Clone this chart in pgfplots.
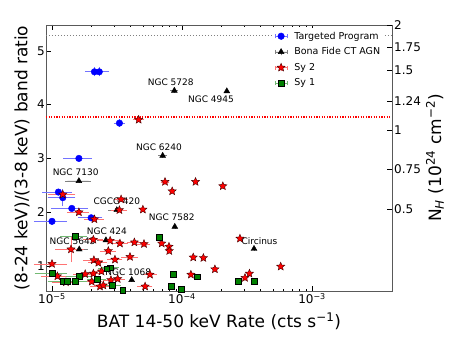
\documentclass[border=0pt]{standalone}
\usepackage{pgfplots}
\pgfplotsset{compat=1.18}
\usepackage{pgfplotstable}
\usepackage{fontspec}
\setmainfont{DejaVu Sans}
\definecolor{sygreen}{RGB}{0,128,0}

\pgfdeclareplotmark{fstar}{%
  \pgfpathmoveto{\pgfpointpolar{90}{\pgfplotmarksize}}%
  \pgfpathlineto{\pgfpointpolar{126}{0.45\pgfplotmarksize}}%
  \pgfpathlineto{\pgfpointpolar{162}{\pgfplotmarksize}}%
  \pgfpathlineto{\pgfpointpolar{198}{0.45\pgfplotmarksize}}%
  \pgfpathlineto{\pgfpointpolar{234}{\pgfplotmarksize}}%
  \pgfpathlineto{\pgfpointpolar{270}{0.45\pgfplotmarksize}}%
  \pgfpathlineto{\pgfpointpolar{306}{\pgfplotmarksize}}%
  \pgfpathlineto{\pgfpointpolar{342}{0.45\pgfplotmarksize}}%
  \pgfpathlineto{\pgfpointpolar{18}{\pgfplotmarksize}}%
  \pgfpathlineto{\pgfpointpolar{54}{0.45\pgfplotmarksize}}%
  \pgfpathclose
  \pgfusepathqfillstroke
}

\pgfplotstableread{
x y ex ey
2.12e-5 4.61 0.25e-5 0.05
2.31e-5 4.61 0.35e-5 0.05
3.30e-5 3.656 0.2e-5 0.03
1.61e-5 3.00 0.35e-5 0
1.12e-5 2.374 0.25e-5 0
1.21e-5 2.27 0.25e-5 0.12
1.42e-5 2.07 0.4e-5 0
2.00e-5 1.896 0.35e-5 0
1.00e-5 1.83 0.25e-5 0
}\bluetab

\pgfplotstableread{
x y ex ey
8.73e-5 4.26 0.3e-5 0
2.21e-4 4.25 0 0
7.10e-5 3.05 0.3e-5 0
1.61e-5 2.58 0.3e-5 0
3.15e-5 2.04 0.35e-5 0
8.80e-5 1.73 0 0
2.60e-5 1.48 0.3e-5 0
1.62e-5 1.31 0.2e-5 0
4.10e-5 0.74 0 0
3.58e-4 1.32 0 0
}\blacktab

\pgfplotstableread{
x y ex ey
4.64e-5 3.72 0.3e-5 0
1.21e-5 2.33 0.25e-5 0
1.61e-5 2.00 0.25e-5 0
2.12e-5 1.87 0.3e-5 0
3.40e-5 2.24 0.3e-5 0
3.30e-5 2.04 0.35e-5 0
5.00e-5 2.05 0 0
7.40e-5 2.565 0.3e-5 0
8.40e-5 2.39 0 0
1.27e-4 2.565 0 0
2.06e-4 2.485 0 0
2.08e-5 1.49 0.3e-5 0
2.80e-5 1.47 0.4e-5 0
3.33e-5 1.42 0.4e-5 0
4.30e-5 1.44 0.4e-5 0
5.10e-5 1.41 0.4e-5 0
1.40e-5 1.31 0.3e-5 0.2
2.71e-5 1.28 0.3e-5 0
3.98e-5 1.17 0.45e-5 0
3.05e-5 1.12 0.3e-5 0
2.10e-5 1.11 0.3e-5 0
2.27e-5 1.06 0.3e-5 0
1.00e-5 1.04 0.25e-5 0
2.40e-5 0.90 0.3e-5 0
1.10e-5 0.81 0.25e-5 0
1.80e-5 0.85 0.3e-5 0
2.08e-5 0.86 0.3e-5 0
3.20e-5 0.76 0.3e-5 0
2.02e-5 0.71 0.3e-5 0
2.84e-5 0.74 0.3e-5 0
2.34e-5 0.62 0.3e-5 0
2.48e-5 0.64 0.3e-5 0
1.28e-5 0.70 0.25e-5 0
5.20e-5 0.62 0.5e-5 0
5.67e-5 0.84 0.5e-5 0
6.98e-5 1.42 0 0
7.94e-5 1.36 0 0
7.98e-5 1.28 0 0
1.22e-4 1.16 0 0
1.46e-4 1.15 0 0
1.79e-4 0.94 0 0
1.17e-4 0.84 0 0
2.79e-4 1.51 0 0
3.05e-4 0.78 0 0
3.30e-4 0.86 0 0
5.74e-4 0.99 0 0
}\redtab

\pgfplotstableread{
x y ex ey
1.50e-5 1.56 0.3e-5 0
6.70e-5 1.53 0 0
2.80e-5 0.97 0.35e-5 0
2.63e-5 0.95 0.3e-5 0
1.01e-5 0.87 0.25e-5 0
1.62e-5 0.81 0.3e-5 0
2.23e-5 0.76 0.3e-5 0
1.21e-5 0.71 0.25e-5 0
1.31e-5 0.71 0.25e-5 0
1.50e-5 0.71 0.3e-5 0
2.90e-5 0.65 0.35e-5 0
3.50e-5 0.55 0 0
8.50e-5 0.85 0 0
1.31e-4 0.80 0 0
8.30e-5 0.62 0 0
9.80e-5 0.57 0 0
2.71e-4 0.72 0 0
3.58e-4 0.72 0 0
}\greentab

\pgfplotsset{
  errstyle/.style={
    error bars/.cd, x dir=both, x explicit, y dir=both, y explicit,
    error bar style={#1, line width=0.6pt},
    error mark options={#1, line width=0.6pt, mark size=2pt},
    /pgfplots/.cd,
  },
  legimg/.style={
    legend image code/.code={
      \draw[#1, line width=0.6pt] (0cm,0cm)--(0.42cm,0cm) (0.21cm,-0.12cm)--(0.21cm,0.12cm)
        (0cm,-0.07cm)--(0cm,0.07cm) (0.42cm,-0.07cm)--(0.42cm,0.07cm);
      \draw[##1] plot coordinates {(0.21cm,0cm)};
    }
  },
}

\begin{document}
\begin{tikzpicture}
\useasboundingbox (-46pt,-57pt) rectangle (417pt,291pt);
\begin{axis}[
  name=main, at={(0,0)}, anchor=south west,
  scale only axis, width=346pt, height=266pt,
  xmode=log, xmin=8.99e-6, xmax=4.12e-3,
  ymin=0.535, ymax=5.48,
  clip=false,
  axis line style={black!65, line width=0.8pt},
  tick align=inside,
  major tick length=5pt, minor tick length=2.5pt,
  every tick/.style={black, line width=0.5pt},
  xtick={1e-5,1e-4,1e-3},
  xticklabels={10\textsuperscript{−5},10\textsuperscript{−4},10\textsuperscript{−3}},
  ytick={1,2,3,4,5},
  ytick pos=left,
  xtick pos=both,
  /pgf/number format/assume math mode=true,
  tick label style={font=\fontsize{12}{12}\selectfont},
  yticklabel style={inner sep=1pt},
  xticklabel style={inner sep=2pt},
  xlabel={BAT 14-50 keV Rate (cts s\textsuperscript{−1})},
  ylabel={(8-24 keV)/(3-8 keV) band ratio},
  label style={font=\fontsize{17}{17}\selectfont},
  xlabel style={at={(axis description cs:0.5,-0.115)}, anchor=center},
  ylabel style={at={(axis description cs:-0.069,0.5)}, anchor=center},
  legend cell align=left,
  legend style={draw=none, fill=white, font=\fontsize{9.5}{10}\selectfont,
    at={(rel axis cs:0.655,0.99)}, anchor=north west, row sep=3pt,
    column sep=5pt, inner sep=2pt},
]
\addplot[gray, line width=1pt, dash pattern=on 1pt off 2pt, forget plot]
  coordinates {(8.99e-6,5.29) (4.12e-3,5.29)};
\addplot[red, line width=1.3pt, dash pattern=on 1.3pt off 1.3pt, forget plot]
  coordinates {(8.99e-6,3.77) (4.12e-3,3.77)};

\addplot[only marks, mark=*, mark size=3.3pt, color=blue, fill=blue,
  errstyle={blue!55}, legimg={blue!55}]
  table[x=x, y=y, x error=ex, y error=ey] {\bluetab};
\addlegendentry{Targeted Program}

\addplot[only marks, mark=triangle*, mark size=3.4pt, color=black, fill=black,
  errstyle={black!50}, legimg={black!50}]
  table[x=x, y=y, x error=ex, y error=ey] {\blacktab};
\addlegendentry{Bona Fide CT AGN}

\addplot[only marks, mark=fstar, mark size=4.3pt, color=red,
  mark options={fill=red, draw=black!75!red, line width=0.4pt},
  errstyle={red!55}, legimg={red!55}]
  table[x=x, y=y, x error=ex, y error=ey] {\redtab};
\addlegendentry{Sy 2}

\addplot[only marks, mark=square*, mark size=2.9pt, color=sygreen,
  mark options={fill=sygreen, draw=black, line width=0.4pt},
  errstyle={sygreen!55}, legimg={sygreen!55}]
  table[x=x, y=y, x error=ex, y error=ey] {\greentab};
\addlegendentry{Sy 1}

\begin{scope}[every node/.style={font=\fontsize{9}{9}\selectfont, inner sep=0pt}]
\node at (axis cs:8.19e-5,4.424) {NGC 5728};
\node at (axis cs:1.67e-4,4.10) {NGC 4945};
\node at (axis cs:6.65e-5,3.20) {NGC 6240};
\node at (axis cs:1.52e-5,2.74) {NGC 7130};
\node at (axis cs:3.15e-5,2.20) {CGCG 420};
\node at (axis cs:8.34e-5,1.90) {NGC 7582};
\node at (axis cs:2.64e-5,1.65) {NGC 424};
\node at (axis cs:1.44e-5,1.46) {NGC 5643};
\node at (axis cs:3.86e-5,0.89) {NGC 1068};
\node at (axis cs:3.94e-4,1.46) {Circinus};
\end{scope}
\end{axis}

\begin{axis}[
  at={(0,0)}, anchor=south west,
  scale only axis, width=346pt, height=266pt,
  xmode=log, xmin=8.99e-6, xmax=4.12e-3,
  ymin=0.535, ymax=5.48,
  axis x line=none,
  axis y line*=right,
  axis line style={black!65, line width=0.8pt, -},
  tick align=inside,
  major tick length=5pt,
  every tick/.style={black, line width=0.5pt},
  ytick={5.48,5.074,4.64,4.065,3.53,2.80,2.06},
  yticklabels={2,1.75,1.5,1.24,1,0.75,0.5},
  tick label style={font=\fontsize{12}{12}\selectfont},
  yticklabel style={inner sep=2pt},
  ylabel={N\textsubscript{\textit{H}} (10\textsuperscript{24} cm\textsuperscript{−2})},
  ylabel style={font=\fontsize{17}{17}\selectfont, at={(axis description cs:1.124,0.5)}, anchor=center},
]
\end{axis}
\end{tikzpicture}
\end{document}
